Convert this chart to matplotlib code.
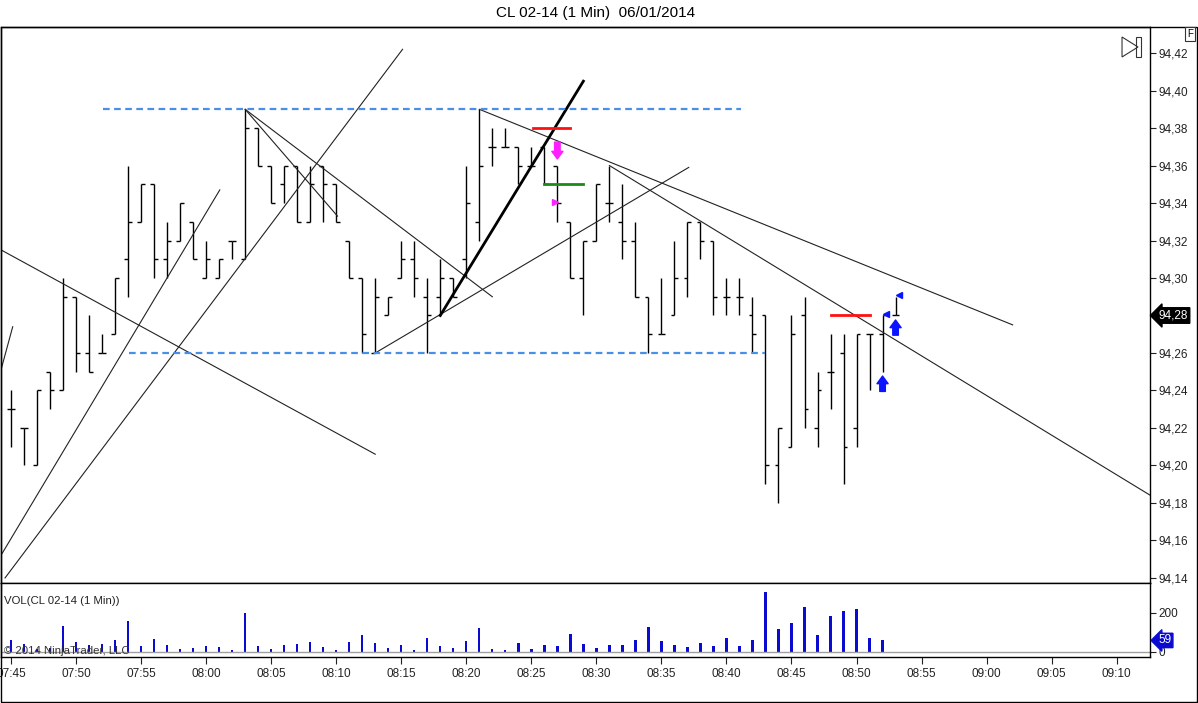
import numpy as np
import matplotlib
matplotlib.use("Agg")
from matplotlib import pyplot as plt
from matplotlib.transforms import blended_transform_factory
from matplotlib.patches import Rectangle, Polygon

plt.rcParams['font.family'] = ['Liberation Sans', 'DejaVu Sans']

start_label = "07:45"
opens = [94.23, 94.22, 94.20, 94.25, 94.24, 94.29, 94.26, 94.26, 94.27, 94.31,
         94.33, 94.35, 94.31, 94.32, 94.33, 94.30, 94.30, 94.32, 94.31, 94.38,
         94.36, 94.35, 94.36, 94.33, 94.36, 94.35, 94.32, 94.30, 94.26, 94.28,
         94.30, 94.31, 94.29, 94.29, 94.30, 94.31, 94.33, 94.37, 94.37, 94.37,
         94.36, 94.37, 94.36, 94.33, 94.30, 94.32, 94.34, 94.33, 94.32, 94.29,
         94.27, 94.28, 94.30, 94.33, 94.32, 94.29, 94.29, 94.28, 94.28, 94.20,
         94.21, 94.28, 94.22, 94.25, 94.26, 94.22, 94.27, 94.27, 94.28]
highs = [94.24, 94.22, 94.24, 94.25, 94.30, 94.29, 94.28, 94.27, 94.30, 94.36,
         94.35, 94.35, 94.33, 94.34, 94.33, 94.32, 94.31, 94.32, 94.39, 94.38,
         94.36, 94.36, 94.36, 94.36, 94.36, 94.35, 94.32, 94.30, 94.30, 94.29,
         94.32, 94.32, 94.30, 94.31, 94.30, 94.36, 94.39, 94.38, 94.38, 94.37,
         94.37, 94.37, 94.36, 94.33, 94.32, 94.35, 94.36, 94.35, 94.33, 94.29,
         94.30, 94.32, 94.33, 94.33, 94.32, 94.30, 94.30, 94.29, 94.28, 94.22,
         94.28, 94.29, 94.25, 94.27, 94.27, 94.27, 94.27, 94.28, 94.29]
lows = [94.21, 94.20, 94.20, 94.23, 94.24, 94.25, 94.25, 94.26, 94.27, 94.29,
        94.33, 94.30, 94.30, 94.32, 94.31, 94.30, 94.30, 94.31, 94.31, 94.36,
        94.34, 94.34, 94.33, 94.33, 94.33, 94.33, 94.30, 94.26, 94.26, 94.28,
        94.30, 94.29, 94.26, 94.28, 94.29, 94.30, 94.32, 94.36, 94.37, 94.35,
        94.36, 94.35, 94.33, 94.30, 94.28, 94.32, 94.33, 94.31, 94.29, 94.26,
        94.27, 94.28, 94.29, 94.31, 94.28, 94.28, 94.28, 94.26, 94.19, 94.18,
        94.21, 94.22, 94.21, 94.23, 94.19, 94.21, 94.24, 94.25, 94.28]
closes = [94.23, 94.22, 94.24, 94.24, 94.29, 94.26, 94.25, 94.26, 94.30, 94.33,
          94.35, 94.31, 94.32, 94.34, 94.31, 94.31, 94.31, 94.32, 94.38, 94.36,
          94.34, 94.36, 94.33, 94.35, 94.35, 94.33, 94.30, 94.27, 94.29, 94.29,
          94.31, 94.30, 94.28, 94.30, 94.29, 94.34, 94.36, 94.37, 94.37, 94.36,
          94.36, 94.35, 94.34, 94.30, 94.32, 94.35, 94.34, 94.32, 94.29, 94.27,
          94.27, 94.30, 94.33, 94.32, 94.29, 94.29, 94.29, 94.27, 94.20, 94.22,
          94.27, 94.23, 94.24, 94.25, 94.21, 94.27, 94.27, 94.28, 94.28]
volumes = [62, 41, 15, 20, 134, 52, 34, 41, 62, 160,
           31, 67, 36, 16, 21, 31, 26, 10, 202, 31,
           16, 36, 41, 52, 26, 10, 52, 88, 47, 21,
           36, 10, 72, 31, 21, 57, 124, 16, 10, 47,
           16, 36, 31, 93, 41, 21, 36, 36, 62, 129,
           57, 36, 26, 47, 31, 72, 31, 62, 310, 119,
           150, 233, 88, 186, 212, 222, 72, 59]

# drawn objects (minute index, price)
trend_lines = [((-0.77, 94.315), (28.0, 94.206)),
               ((-0.77, 94.251), (0.13, 94.274)),
               ((-0.69, 94.153), (16.05, 94.347)),
               ((-0.46, 94.140), (30.1, 94.422)),
               ((18.0, 94.39), (37.0, 94.290)),
               ((18.0, 94.39), (25.1, 94.333)),
               ((28.0, 94.26), (52.1, 94.359)),
               ((36.0, 94.39), (77.0, 94.275)),
               ((46.0, 94.36), (87.6, 94.184))]
thick_line = ((33.0, 94.28), (44.0, 94.405))
dashed_levels = [(94.39, 7.1, 56.1), (94.26, 9.1, 58.0)]
stop_lines = [(94.38, 40.1, 43.0, "#ff1010"), (94.35, 41.0, 44.0, "#1a8a1a"), (94.28, 63.0, 66.0, "#ff1010")]
last_price = 94.28
last_volume = 59

x = np.arange(len(opens))
h0, m0 = map(int, start_label.split(":"))

fig = plt.figure(figsize=(11.98, 7.03), dpi=100)
W, H = 1198, 703
ax = fig.add_axes([1 / W, (H - 583) / H, 1149 / W, (583 - 27) / H])
axv = fig.add_axes([1 / W, (H - 657) / H, 1149 / W, (657 - 583) / H], sharex=ax)

# price bars
ax.vlines(x, lows, highs, color="black", lw=1)
ax.hlines(opens, x - 0.3, x, color="black", lw=1)
ax.hlines(closes, x, x + 0.3, color="black", lw=1)

for (a, b) in trend_lines:
    ax.plot([a[0], b[0]], [a[1], b[1]], color="#222222", lw=0.8)
ax.plot([thick_line[0][0], thick_line[1][0]], [thick_line[0][1], thick_line[1][1]], color="black", lw=2)
for lvl, a, b in dashed_levels:
    ax.plot([a, b], [lvl, lvl], color="#4a8fe6", lw=1.6, ls=(0, (3, 2)))
for lvl, a, b, c in stop_lines:
    ax.plot([a, b], [lvl, lvl], color=c, lw=2)

arrow = dict(arrowstyle="simple,head_length=0.55,head_width=0.8,tail_width=0.4",
             shrinkA=0, shrinkB=0, mutation_scale=10)
ax.annotate("", xy=(42, 94.3635), xytext=(42, 94.3725), arrowprops=dict(arrow, color="#ff20ff"))
ax.annotate("", xy=(67, 94.2477), xytext=(67, 94.2395), arrowprops=dict(arrow, color="#0a14ff"))
ax.annotate("", xy=(68, 94.2776), xytext=(68, 94.2695), arrowprops=dict(arrow, color="#0a14ff"))
ax.plot(41.8, 94.3407, marker=">", color="#ff20ff", ms=5)
ax.plot([67.25, 68.25], [94.281, 94.291], marker="<", ls="none", color="#0a14ff", ms=5)

ax.set_xlim(-0.77, 87.56)
ax.set_ylim(94.1373, 94.4339)
ax.yaxis.tick_right()
yt = np.round(np.arange(94.14, 94.421, 0.02), 2)
ax.set_yticks(yt)
ax.set_yticklabels([f"{v:.2f}".replace(".", ",") for v in yt])
ax.tick_params(axis="y", direction="out", length=4, labelsize=8.5, pad=2, colors="#222222")
ax.tick_params(axis="x", bottom=False, labelbottom=False)

tr = blended_transform_factory(ax.transAxes, ax.transData)
ax.text(1.0075, last_price, f"{last_price:.2f}".replace(".", ","), transform=tr, color="white",
        fontsize=8.5, va="center", ha="left",
        bbox=dict(boxstyle="larrow,pad=0.15", fc="black", ec="black"))

# play icon top right
tri = Polygon([(1122 / 1150, (583 - 37) / 556), (1122 / 1150, (583 - 57) / 556), (1138 / 1150, (583 - 47) / 556)],
              closed=True, fill=False, ec="#333333", lw=0.8, transform=ax.transAxes)
ax.add_patch(tri)
ax.add_patch(Rectangle((1136 / 1150, (583 - 57) / 556), 5 / 1150, 20 / 556, fill=False, ec="#333333", lw=0.8,
                       transform=ax.transAxes))

# volume
axv.bar(x[:len(volumes)], volumes, width=0.18, color="#0a0ad0")
axv.axhline(0, color="#a0a0a0", lw=1)
axv.set_ylim(-26, 354)
axv.yaxis.tick_right()
axv.set_yticks([0, 200])
axv.tick_params(axis="y", direction="out", length=4, labelsize=8.5, pad=2, colors="#222222")
xt = np.arange(0, 86, 5)
axv.set_xticks(xt)
axv.set_xticklabels([f"{(h0 * 60 + m0 + t) // 60:02d}:{(m0 + t) % 60:02d}" for t in xt])
axv.tick_params(axis="x", direction="out", length=5, labelsize=8.5, pad=3, colors="#222222")
trv = blended_transform_factory(axv.transAxes, axv.transData)
axv.text(1.0075, last_volume, str(last_volume), transform=trv, color="white", fontsize=8.5, va="center",
         ha="left", bbox=dict(boxstyle="larrow,pad=0.1", fc="#0a0ad0", ec="#0a0ad0"))
axv.text(3 / 1150, 0.76, "VOL(CL 02-14 (1 Min))", transform=axv.transAxes, fontsize=8.2, va="center", color="#222222")
axv.text(3 / 1150, 0.08, "\u00a9 2014 NinjaTrader, LLC", transform=axv.transAxes, fontsize=8.2, va="center",
         color="#333333")

for a in (ax, axv):
    for s in a.spines.values():
        s.set_linewidth(1)

fig.add_artist(Rectangle((0.5 / W, 1 - 702 / H), 1196.5 / W, (702 - 27) / H, fill=False, ec="black", lw=1,
                         transform=fig.transFigure))
fig.text(596 / W, 1 - 13 / H, "CL 02-14 (1 Min)  06/01/2014", ha="center", va="center", fontsize=11)
fig.text(1190 / W, 1 - 34 / H, "F", ha="center", va="center", fontsize=7,
         bbox=dict(boxstyle="square,pad=0.25", fc="white", ec="#333333", lw=0.8))

fig.savefig("out.png", dpi=100)
